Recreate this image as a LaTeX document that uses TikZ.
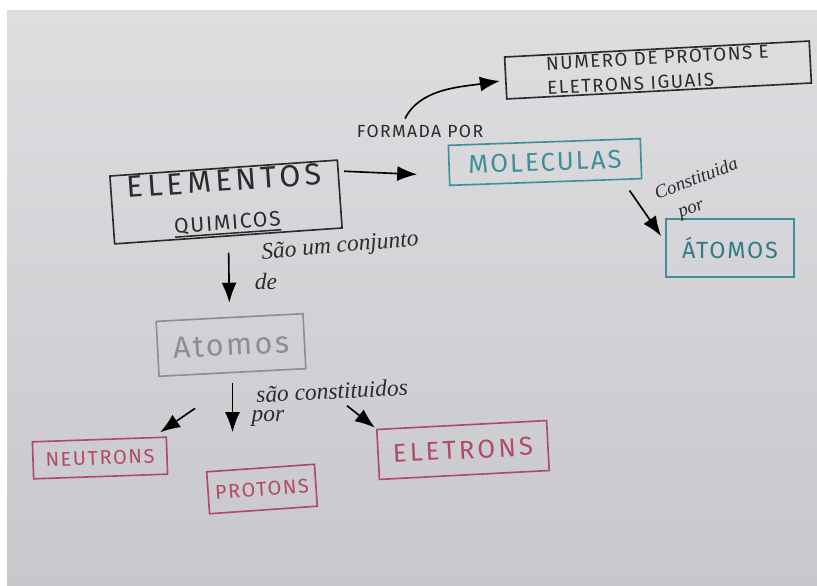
\documentclass[tikz,border=0pt]{standalone}
\usepackage{fontspec}
\setmainfont{Fira Sans}
\newfontfamily\letra[LetterSpace=8]{Fira Sans}
\newfontfamily\cursiva{Liberation Serif}
\usetikzlibrary{
    arrows.meta, % For arrow tips
    calc,        % For offsets from anchors
    positioning  % For relative placement
}

\definecolor{papelA}{HTML}{DEDEE1}
\definecolor{papelB}{HTML}{C8C8CC}
\definecolor{tinta}{HTML}{2B2B2E}
\definecolor{azul}{HTML}{3E8E9C}
\definecolor{cinza}{HTML}{8A8E98}
\definecolor{rosa}{HTML}{B04A6A}

% Thick underline, as drawn with the pen
\newcommand\sublinha[1]{\setbox0\hbox{#1}\rlap{\rule[-4pt]{\wd0}{1.3pt}}\box0}

\begin{document}
\begin{tikzpicture}[
    x=0.3mm, y=-0.3mm, % one unit = one pixel of the sheet, y pointing down
    >=Latex,
    % Style for the hand drawn boxes
    caixa/.style={draw, line width=1.4pt, inner sep=0pt, align=center},
    % Style for the black arrows
    seta/.style={->, line width=1.4pt, >={Latex[length=6mm, width=4.5mm]}},
    % Style for the small handwritten link words
    rotulo/.style={font=\cursiva\itshape\fontsize{20}{22}\selectfont, text=tinta}
]

    % The sheet of paper
    \useasboundingbox (0,0) rectangle (817,585);
    \fill[white] (0,0) rectangle (817,585);
    \shade[top color=papelA, bottom color=papelB] (7,10) rectangle (817,585);

    % Concept boxes
    \node[caixa, draw=tinta, text=tinta, minimum width=68.4mm, minimum height=20.4mm, rotate=4,
          font=\letra\fontsize{26}{30}\selectfont]
        (elementos) at (226,202)
        {{\addfontfeatures{LetterSpace=14}ELEMENTOS}\\[1mm]
         {\fontsize{18}{20}\selectfont\sublinha{QUIMICOS}}};
    \node[caixa, draw=tinta, text=tinta, minimum width=91.5mm, minimum height=12.6mm, rotate=3,
          align=left, inner xsep=3mm, anchor=center,
          font=\letra\fontsize{16}{21}\selectfont]
        (numero) at (658,70)
        {NUMERO DE PROTONS E\\ELETRONS IGUAIS};
    \node[caixa, draw=azul, text=azul, minimum width=57.6mm, minimum height=12mm, rotate=2,
          font=\letra\fontsize{22}{24}\selectfont]
        (moleculas) at (545,162) {MOLECULAS};
    \node[caixa, draw=azul, text=azul!85!black, minimum width=38.4mm, minimum height=17.4mm,
          font=\letra\fontsize{20}{22}\selectfont]
        (atomosdir) at (730,248) {ÁTOMOS};
    \node[caixa, draw=cinza, text=cinza, minimum width=44.1mm, minimum height=16.5mm, rotate=3,
          font=\letra\fontsize{26}{28}\selectfont]
        (atomos) at (231,345) {Atomos};
    \node[caixa, draw=rosa, text=rosa, minimum width=40.2mm, minimum height=11.1mm, rotate=2,
          font=\letra\fontsize{17}{19}\selectfont]
        (neutrons) at (100,458) {NEUTRONS};
    \node[caixa, draw=rosa, text=rosa, minimum width=32.4mm, minimum height=12.6mm, rotate=4,
          font=\letra\fontsize{17}{19}\selectfont]
        (protons) at (262,489) {PROTONS};
    \node[caixa, draw=rosa, text=rosa, minimum width=51mm, minimum height=15mm, rotate=3,
          font=\letra\addfontfeatures{LetterSpace=12}\fontsize{22}{24}\selectfont]
        (eletrons) at (463,450) {ELETRONS};

    % Link words
    \node[font=\letra\fontsize{15}{17}\selectfont, text=tinta] (formada) at (420,131) {FORMADA POR};
    \node[rotulo, rotate=5] (conjunto) at (340,247) {São um conjunto};
    \node[rotulo] (de) at (266,281) {de};
    \node[rotulo, rotate=3] (sao) at (332,391) {são constituidos};
    \node[rotulo] (por) at (268,418) {por};
    \node[rotulo, font=\cursiva\itshape\fontsize{16}{18}\selectfont, rotate=21, inner sep=1pt]
        (constituida) at (696,178) {Constituida};
    \node[rotulo, font=\cursiva\itshape\fontsize{16}{18}\selectfont, rotate=21, inner sep=1pt]
        (por2) at (692,211) {por};

    % Arrows
    \draw[seta] ($(elementos.north east)+(6,12)$) -- ($(moleculas.west)+(-31,9)$);
    \draw[seta] ($(formada.north)+(-15,-2)$) .. controls +(15,-30) and +(-40,6) .. ($(numero.west)+(-5,3)$);
    \draw[seta] ($(moleculas.south east)+(-13,11)$) -- ($(atomosdir.north west)+(-4,18)$);
    \draw[seta, shorten <=4.8mm, shorten >=4.2mm] (elementos.south) -- (atomos.north);
    \draw[seta, shorten <=3mm, shorten >=10.5mm] (atomos.south) -- (atomos.south |- protons.north);
    \draw[seta] ($(neutrons.north east)+(28,-28)$) -- ($(neutrons.north east)+(-7,-4)$);
    \draw[seta] ($(eletrons.north west)+(-29,-23)$) -- ($(eletrons.north west)+(-1,-1)$);

\end{tikzpicture}
\end{document}
